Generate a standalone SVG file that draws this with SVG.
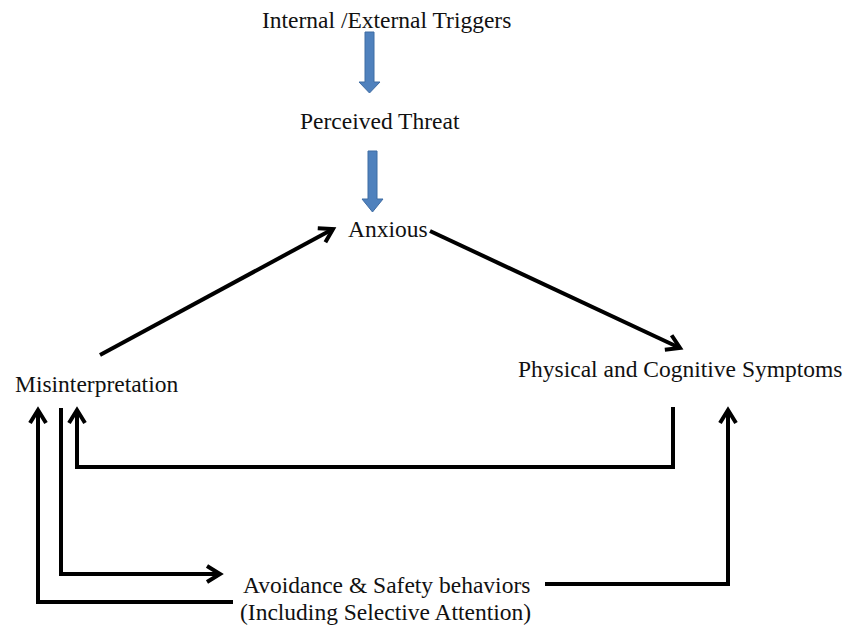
<svg xmlns="http://www.w3.org/2000/svg" width="846" height="629" viewBox="0 0 846 629">
  <style>
    .lbl { font-family: "Liberation Serif", "Times New Roman", serif; font-size: 23.5px; fill: #111; }
    .flow { fill: #4F81BD; stroke: #3F6CA3; stroke-width: 1; }
    .link { fill: none; stroke: #000; stroke-width: 4; stroke-linejoin: miter; marker-end: url(#open); }
  </style>
  <defs>
    <marker id="open" markerUnits="userSpaceOnUse" markerWidth="30" markerHeight="30" viewBox="-15 -15 30 30" refX="0" refY="0" orient="auto" overflow="visible">
      <path d="M-13,-8 L0,0 L-13,8" fill="none" stroke="#000" stroke-width="4" stroke-linejoin="miter"/>
    </marker>
  </defs>
  <rect width="846" height="629" fill="#fff"/>

  <!-- block arrows in the top chain -->
  <g id="flow-arrows">
    <polygon class="flow" points="365,32 374,32 374,82 380,82 369.5,93 359,82 365,82"/>
    <polygon class="flow" points="368,151 377,151 377,199 383,199 372.5,212 362,199 368,199"/>
  </g>

  <!-- connectors -->
  <g id="connectors">
    <line class="link" x1="100" y1="355" x2="333" y2="229"/>
    <line class="link" x1="430" y1="231" x2="680" y2="348"/>
    <polyline class="link" points="673,407 673,467 77,467 77,410"/>
    <polyline class="link" points="61,408 61,574 220,574"/>
    <polyline class="link" points="233,602 38,602 38,410"/>
    <polyline class="link" points="545,584 728,584 728,410"/>
  </g>

  <g id="triggers"><text class="lbl" x="262" y="28">Internal /External Triggers</text></g>
  <g id="threat"><text class="lbl" x="300" y="129">Perceived Threat</text></g>
  <g id="anxious"><text class="lbl" x="348" y="237">Anxious</text></g>
  <g id="misinterpretation"><text class="lbl" x="15" y="392">Misinterpretation</text></g>
  <g id="symptoms"><text class="lbl" x="518" y="377">Physical and Cognitive Symptoms</text></g>
  <g id="avoidance">
    <text class="lbl" x="243" y="593">Avoidance &amp; Safety behaviors</text>
    <text class="lbl" x="240" y="620">(Including Selective Attention)</text>
  </g>
</svg>
